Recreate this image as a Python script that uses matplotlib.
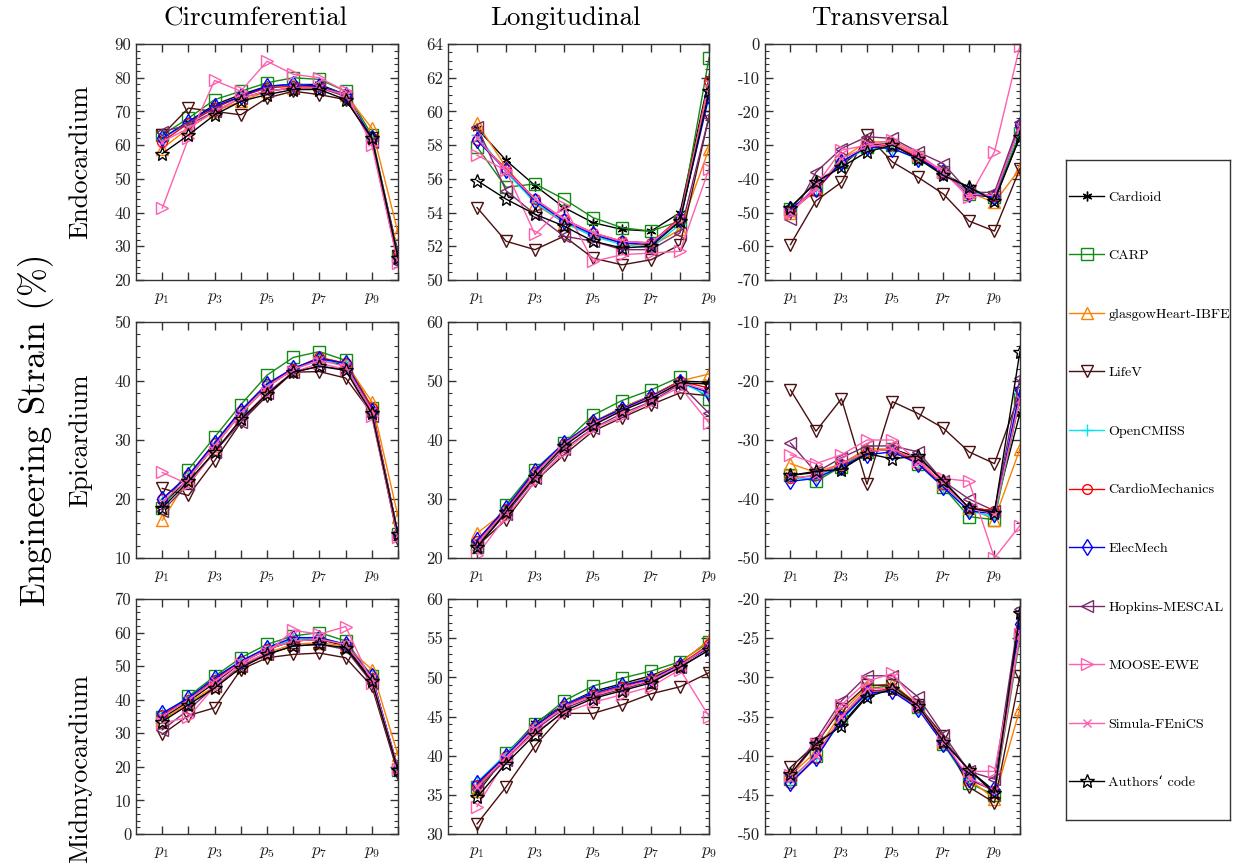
import numpy as np
import matplotlib
matplotlib.use("Agg")
import matplotlib.pyplot as plt
from matplotlib.ticker import AutoMinorLocator, MultipleLocator

plt.rcParams['font.family'] = ['cmr10', 'DejaVu Serif']
plt.rcParams['mathtext.fontset'] = 'cm'
plt.rcParams['axes.unicode_minus'] = False
plt.rcParams['axes.formatter.use_mathtext'] = False

# ---------------------------------------------------------------
# series names (legend order)
# ---------------------------------------------------------------
codes = ['Cardioid', 'CARP', 'glasgowHeart-IBFE', 'LifeV', 'OpenCMISS',
         'CardioMechanics', 'ElecMech', 'Hopkins-MESCAL', 'MOOSE-EWE',
         'Simula-FEniCS', 'Authors` code']

# ---------------------------------------------------------------
# data: engineering strain (%) at points p1..p10 (longitudinal p1..p9)
# ---------------------------------------------------------------
circ_endo = {
    'Cardioid':          [62, 67, 72, 75, 77.5, 78, 78, 75, 62, 28],
    'CARP':              [63, 68, 73.5, 76, 78.5, 80, 79.5, 76, 63, 27],
    'glasgowHeart-IBFE': [59, 65, 70, 73, 76, 77, 77, 75, 65, 34],
    'LifeV':             [63, 71, 70, 69, 74, 76, 75, 73.5, 62, 27],
    'OpenCMISS':         [62, 66.5, 71, 74.5, 77, 78, 77.5, 75, 62, 27],
    'CardioMechanics':   [61, 66.5, 71, 74.5, 77, 77.5, 77.5, 75, 62, 27],
    'ElecMech':          [62, 67, 71.5, 74.5, 77.5, 78, 77.5, 75, 62, 26.5],
    'Hopkins-MESCAL':    [64, 66, 70, 74, 76, 77, 77, 74.5, 61, 25],
    'MOOSE-EWE':         [41.3, 62, 79.2, 76, 84.9, 81, 80, 76, 60, 25],
    'Simula-FEniCS':     [61, 65, 70, 74, 76, 77, 77, 75, 61, 26],
    'Authors` code':     [57.5, 63, 69, 73, 75, 76.5, 76.5, 73.5, 62, 26.5],
}
long_endo = {
    'Cardioid':          [59.0, 57.1, 55.6, 54.3, 53.4, 53.0, 52.9, 54.0, 62.0],
    'CARP':              [57.9, 55.5, 55.7, 54.8, 53.7, 53.1, 52.9, 53.5, 63.2],
    'glasgowHeart-IBFE': [59.3, 56.7, 54.5, 53.4, 52.6, 52.2, 52.0, 53.0, 57.8],
    'LifeV':             [54.3, 52.3, 51.8, 52.6, 51.3, 50.9, 51.2, 52.1, 59.7],
    'OpenCMISS':         [58.6, 56.4, 54.6, 53.4, 52.6, 52.1, 51.9, 53.3, 61.8],
    'CardioMechanics':   [58.3, 56.6, 54.8, 53.6, 52.8, 52.3, 52.2, 53.7, 61.8],
    'ElecMech':          [58.3, 56.5, 54.7, 53.5, 52.7, 52.2, 52.1, 53.6, 60.9],
    'Hopkins-MESCAL':    [59.1, 55.3, 53.9, 52.6, 52.3, 51.8, 51.8, 52.8, 59.7],
    'MOOSE-EWE':         [57.4, 56.5, 52.7, 54.4, 51.1, 51.5, 51.6, 51.7, 56.6],
    'Simula-FEniCS':     [58.4, 56.5, 54.8, 53.6, 52.8, 52.3, 52.2, 53.6, 61.7],
    'Authors` code':     [55.9, 54.8, 53.9, 53.2, 52.3, 51.9, 52.0, 53.5, 61.2],
}
trans_endo = {
    'Cardioid':          [-48.5, -41, -36, -30, -29.5, -34, -38.5, -42.5, -46, -27.5],
    'CARP':              [-49, -43, -35, -30.5, -30, -33.5, -38, -44.5, -45.5, -26.5],
    'glasgowHeart-IBFE': [-50, -43, -34, -29, -29, -33, -38, -44, -47, -37],
    'LifeV':             [-59.5, -46.5, -41, -27, -35, -39.5, -44.5, -52.5, -55.5, -37],
    'OpenCMISS':         [-49, -43, -35, -31, -31, -34, -38, -44, -45, -25],
    'CardioMechanics':   [-49.5, -43.5, -35, -30.5, -30, -33.5, -38, -44.5, -45, -24],
    'ElecMech':          [-49, -43, -35, -30.5, -31, -34, -38, -44.5, -45.5, -24],
    'Hopkins-MESCAL':    [-52, -38, -31, -27.5, -28, -32, -35.5, -44, -44, -23],
    'MOOSE-EWE':         [-50, -42, -31.5, -30, -28.5, -32.5, -38, -45.5, -32, -0.5],
    'Simula-FEniCS':     [-50, -43, -34, -30.5, -29.5, -33, -38, -44.5, -45, -24.5],
    'Authors` code':     [-48.5, -41, -36.5, -32, -30, -34, -39, -42.5, -46.5, -27.5],
}
circ_epi = {
    'Cardioid':          [19, 23.5, 29, 34.5, 39, 42, 44, 42.5, 35, 14],
    'CARP':              [18.5, 25, 30.5, 36, 41, 44, 45, 43.5, 35.5, 14],
    'glasgowHeart-IBFE': [16.4, 23.5, 29, 34.5, 39, 42, 44, 43, 36.5, 17],
    'LifeV':             [21.8, 20.6, 26.5, 33, 37.5, 41.5, 41.6, 40.5, 34.5, 13],
    'OpenCMISS':         [20, 24, 29.5, 35, 39.5, 42, 43.5, 43, 35, 14],
    'CardioMechanics':   [20, 24, 29.5, 35, 39.5, 42, 44, 43, 35.5, 14],
    'ElecMech':          [20, 24, 29.5, 35, 39.5, 42.2, 43.8, 43, 35, 14],
    'Hopkins-MESCAL':    [18, 22.5, 28, 33, 38, 41.5, 42.5, 42, 34, 13.5],
    'MOOSE-EWE':         [24.5, 22.5, 28, 33.5, 38, 41.5, 43, 42, 34, 13.5],
    'Simula-FEniCS':     [19.5, 23.5, 29, 34.5, 39, 42, 43.5, 42.5, 35, 14],
    'Authors` code':     [18.5, 23, 28, 33.5, 37.8, 41.5, 42.5, 41.8, 34.5, 14],
}
long_epi = {
    'Cardioid':          [22.5, 28, 34.5, 39.5, 43, 45.5, 47.5, 50, 49.8],
    'CARP':              [21.8, 29, 35, 39.5, 44.2, 46.7, 48.5, 50.7, 47],
    'glasgowHeart-IBFE': [24.2, 28, 34.5, 39.5, 43, 45.5, 47.5, 50, 51.2],
    'LifeV':             [22, 26.5, 33, 37.5, 41.5, 43.8, 46, 48, 47.5],
    'OpenCMISS':         [22.5, 28.5, 34.5, 39.5, 43, 45.3, 47.3, 49.8, 47.5],
    'CardioMechanics':   [22.8, 28.3, 34.5, 39.3, 43, 45.2, 47.3, 50, 48.8],
    'ElecMech':          [23, 28.5, 34.8, 39.5, 43, 45.3, 47.4, 49.8, 48],
    'Hopkins-MESCAL':    [22, 27.5, 33.5, 38.5, 42, 44.5, 46.5, 49.5, 44.5],
    'MOOSE-EWE':         [20.5, 27, 33, 38, 42, 44, 46.5, 49, 42.9],
    'Simula-FEniCS':     [22.5, 28, 34.3, 39.3, 42.8, 45, 47.2, 49.8, 48.3],
    'Authors` code':     [21.8, 27.8, 33.8, 39, 42.5, 45, 47, 49.7, 49.5],
}
trans_epi = {
    'Cardioid':          [-36, -35.5, -35, -32, -31.5, -33, -37, -41.5, -42, -25.5],
    'CARP':              [-36, -37, -34.5, -32, -31.5, -34, -38, -43, -43.5, -23],
    'glasgowHeart-IBFE': [-34, -35.5, -34, -31.5, -31.5, -33.5, -37.5, -41.5, -43.5, -31.5],
    'LifeV':             [-21.5, -28.5, -23, -37.5, -23.5, -25.5, -28, -32, -34, -22],
    'OpenCMISS':         [-36.5, -36.5, -34, -32, -31.5, -34, -38, -42, -43, -22],
    'CardioMechanics':   [-36.5, -36, -34, -32, -31.5, -34, -37.5, -41.5, -42, -23],
    'ElecMech':          [-37, -36.5, -34.5, -32.5, -32, -34, -38, -42, -42.5, -21.5],
    'Hopkins-MESCAL':    [-30.5, -35.5, -33, -31, -31, -32, -37, -40, -42, -19.5],
    'MOOSE-EWE':         [-32.5, -34, -32.5, -30, -30, -33.5, -36.5, -37, -50, -44.5],
    'Simula-FEniCS':     [-36.5, -36, -34, -32, -31.5, -33.5, -37.5, -41.5, -42.5, -23],
    'Authors` code':     [-36, -35.3, -35, -32.3, -33.2, -32.7, -37, -41.5, -42.3, -15],
}
circ_mid = {
    'Cardioid':          [34.5, 39.5, 45, 51, 55, 57.5, 58, 56, 46, 19],
    'CARP':              [35, 41, 47, 52.5, 56.5, 59, 60, 57.5, 47, 19],
    'glasgowHeart-IBFE': [34, 39, 44, 50, 54, 56.5, 57, 56, 49, 23.5],
    'LifeV':             [29.7, 35.3, 37.6, 49, 52.5, 53.5, 53.9, 52.5, 44, 18],
    'OpenCMISS':         [36, 40.5, 46.5, 51.5, 55.5, 58, 58.5, 56.5, 47, 19.5],
    'CardioMechanics':   [35.5, 40, 46, 51.5, 55, 57.5, 58, 56.5, 46.5, 19.5],
    'ElecMech':          [36, 40.5, 46.5, 51.5, 55.5, 58.5, 58.5, 56.5, 47, 19.5],
    'Hopkins-MESCAL':    [31, 37, 44, 50, 53.5, 56, 56.5, 55, 45, 18.5],
    'MOOSE-EWE':         [33, 34.8, 44, 50.5, 54, 60.7, 59.5, 61.8, 45, 19.5],
    'Simula-FEniCS':     [35, 40, 45.5, 51, 55, 57.5, 58, 56.5, 46.5, 19.5],
    'Authors` code':     [33.5, 38.5, 43.5, 49.5, 53.5, 56, 56.5, 55.5, 45.5, 19],
}
long_mid = {
    'Cardioid':          [35.2, 40, 44.2, 46.5, 48.2, 49.2, 50.2, 51.7, 53.8],
    'CARP':              [36, 40.3, 44, 47, 48.9, 49.9, 50.8, 52, 54.5],
    'glasgowHeart-IBFE': [35.5, 40, 43.8, 46.5, 48, 49, 50, 51.8, 54.8],
    'LifeV':             [31.3, 36, 41.3, 45.4, 45.4, 46.5, 47.9, 48.8, 50.6],
    'OpenCMISS':         [36.6, 40.2, 43.8, 46.5, 48, 49, 49.8, 51.6, 54],
    'CardioMechanics':   [36.3, 40, 43.8, 46.3, 47.8, 48.8, 49.8, 51.6, 54.2],
    'ElecMech':          [36.5, 40, 43.8, 46.5, 48, 49, 49.8, 51.6, 53.8],
    'Hopkins-MESCAL':    [35.8, 39.5, 43.3, 46, 47.5, 48.5, 49.5, 51.3, 53.5],
    'MOOSE-EWE':         [33.5, 39.5, 43, 45.5, 46.8, 47.8, 48.8, 51, 45],
    'Simula-FEniCS':     [36, 39.8, 43.5, 46.2, 47.7, 48.7, 49.6, 51.5, 54],
    'Authors` code':     [34.7, 39, 42.7, 45.7, 47.3, 48.3, 49.3, 51.3, 53.5],
}
trans_mid = {
    'Cardioid':          [-42.5, -38.5, -36, -32.3, -31.3, -33.5, -38, -41.8, -44.5, -22],
    'CARP':              [-43, -40, -35, -31.5, -31, -33.8, -38.5, -43.5, -45, -25],
    'glasgowHeart-IBFE': [-42.5, -39.5, -34.5, -31.2, -30.8, -33.5, -38.2, -43, -45.5, -34],
    'LifeV':             [-41.5, -38.5, -34, -31, -31, -33.5, -37.5, -44, -46, -29.8],
    'OpenCMISS':         [-43.3, -40.3, -35.5, -32, -31.5, -34, -38.5, -43, -44.5, -24],
    'CardioMechanics':   [-43.5, -40.3, -35.3, -31.8, -31.5, -33.8, -38.3, -43, -44.5, -24],
    'ElecMech':          [-43.5, -40.3, -35.3, -32, -31.8, -34, -38.5, -43, -44.3, -23.2],
    'Hopkins-MESCAL':    [-42.5, -38, -33, -29.8, -29.8, -32.5, -37.3, -42, -43, -21.3],
    'MOOSE-EWE':         [-42.5, -38.5, -33.5, -30.5, -29.5, -33.5, -38, -42, -42, -24.5],
    'Simula-FEniCS':     [-43, -40, -35, -31.5, -31.3, -33.8, -38.2, -42.8, -44.5, -24.5],
    'Authors` code':     [-42.3, -38.5, -36.2, -32.5, -31.5, -33.6, -38.2, -41.8, -44.8, -21.8],
}

# y-axis limits / major tick step per panel (rows: endo, epi, mid)
panels = [
    [(circ_endo, (20, 90), 10), (long_endo, (50, 64), 2), (trans_endo, (-70, 0), 10)],
    [(circ_epi, (10, 50), 10), (long_epi, (20, 60), 10), (trans_epi, (-50, -10), 10)],
    [(circ_mid, (0, 70), 10), (long_mid, (30, 60), 5), (trans_mid, (-50, -20), 5)],
]

styles = {
    'Cardioid':          dict(color='black', marker=(6, 2, 0), ms=7, mfc='black'),
    'CARP':              dict(color='#138a13', marker='s', ms=8, mfc='none'),
    'glasgowHeart-IBFE': dict(color='#ff8000', marker='^', ms=9, mfc='none'),
    'LifeV':             dict(color='#4a0f0f', marker='v', ms=9, mfc='none'),
    'OpenCMISS':         dict(color='#00e5ee', marker='+', ms=8, mfc='none'),
    'CardioMechanics':   dict(color='red', marker='o', ms=7, mfc='none'),
    'ElecMech':          dict(color='blue', marker='d', ms=8, mfc='none'),
    'Hopkins-MESCAL':    dict(color='#7a2a6a', marker='<', ms=9, mfc='none'),
    'MOOSE-EWE':         dict(color='#ff5fae', marker='>', ms=9, mfc='none'),
    'Simula-FEniCS':     dict(color='#ff5fae', marker='x', ms=6, mfc='none'),
    'Authors` code':     dict(color='black', marker='*', ms=10, mfc='none'),
}

fig = plt.figure(figsize=(12.39, 8.65), dpi=100)

col_left = [0.1098, 0.3616, 0.6174]
col_width = [0.2115, 0.2107, 0.2058]
row_bottom = [0.6763, 0.3549, 0.0358]
row_height = [0.2728, 0.2728, 0.2717]

handles = []
for r in range(3):
    for c in range(3):
        data, ylim, step = panels[r][c]
        ax = fig.add_axes([col_left[c], row_bottom[r], col_width[c], row_height[r]])
        n = len(data['Cardioid'])
        x = np.arange(1, n + 1)
        for name in codes:
            st = styles[name]
            ln, = ax.plot(x, data[name], color=st['color'], marker=st['marker'],
                          markersize=st['ms'], markerfacecolor=st['mfc'],
                          markeredgecolor=st['color'], markeredgewidth=1.0,
                          linewidth=1.0, label=name.replace('`', '\u2018'))
            if r == 0 and c == 0:
                handles.append(ln)
        ax.set_xlim(0, n)
        ax.set_ylim(*ylim)
        ax.set_xticks(x)
        ax.set_xticklabels([r'$p_{%d}$' % i if i % 2 == 1 else '' for i in x])
        ax.yaxis.set_major_locator(MultipleLocator(step))
        ax.yaxis.set_minor_locator(AutoMinorLocator())
        ax.tick_params(axis='both', which='both', direction='in',
                       top=True, right=True, labelsize=12, colors='#333333',
                       labelcolor='#222222')
        ax.tick_params(axis='both', which='major', length=6, width=1.0)
        ax.tick_params(axis='y', which='minor', length=3, width=0.8)
        ax.tick_params(axis='x', which='major', pad=8)
        for sp in ax.spines.values():
            sp.set_linewidth(1.0)
            sp.set_color('#333333')

# column titles
for xc, title in zip([0.206, 0.456, 0.710], ['Circumferential', 'Longitudinal', 'Transversal']):
    fig.text(xc, 0.979, title, ha='center', va='center', fontsize=19.5)

# row labels
fig.text(0.065, 0.813, 'Endocardium', rotation=90, ha='center', va='center', fontsize=19)
fig.text(0.065, 0.491, 'Epicardium', rotation=90, ha='center', va='center', fontsize=19)
fig.text(0.065, 0.112, 'Midmyocardium', rotation=90, ha='center', va='center', fontsize=19)
fig.text(0.029, 0.503, 'Engineering Strain (%)', rotation=90, ha='center', va='center',
         fontsize=25)

# legend in its own framed box
lax = fig.add_axes([1066 / 1239, 1 - 820 / 865, 164 / 1239, 660 / 865])
lax.set_xticks([])
lax.set_yticks([])
for sp in lax.spines.values():
    sp.set_linewidth(1.0)
    sp.set_color('#333333')
lax.legend(handles=handles, loc='center left', bbox_to_anchor=(0.0, 0.5),
           frameon=False, fontsize=10.2, labelspacing=3.22,
           handlelength=2.5, handletextpad=0.3, borderpad=0, borderaxespad=0.2)

fig.savefig('out.png', dpi=100, facecolor='white')
